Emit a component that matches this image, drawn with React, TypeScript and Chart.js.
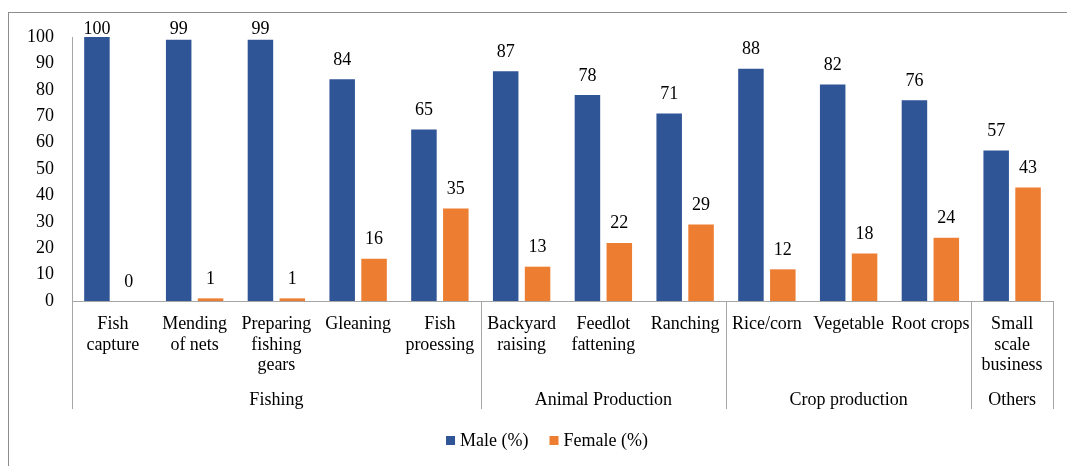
import { useEffect, useRef } from "react";
import { Chart, registerables } from "chart.js";

Chart.register(...registerables);

// Activity categories (multi-line tick labels) and their sector groups
const categories: string[][] = [
  ["Fish", "capture"],
  ["Mending", "of nets"],
  ["Preparing", "fishing", "gears"],
  ["Gleaning"],
  ["Fish", "proessing"],
  ["Backyard", "raising"],
  ["Feedlot", "fattening"],
  ["Ranching"],
  ["Rice/corn"],
  ["Vegetable"],
  ["Root crops"],
  ["Small", "scale", "business"],
];
const groupNames = ["Fishing", "Animal Production", "Crop production", "Others"];
const groupSizes = [5, 3, 3, 1];

// Participation shares by sex
const maleValues = [100, 99, 99, 84, 65, 87, 78, 71, 88, 82, 76, 57];
const femaleValues = [0, 1, 1, 16, 35, 13, 22, 29, 12, 18, 24, 43];

const yTicks = [0, 10, 20, 30, 40, 50, 60, 70, 80, 90, 100];

const FONT = '"Liberation Serif", "Times New Roman", serif';
const TEXT = "#000000";
const AXIS_GRAY = "#A6A6A6";
const MALE_COLOR = "#2F5597";
const FEMALE_COLOR = "#ED7D31";

const decorations = {
  id: "decorations",
  beforeDraw(chart: any) {
    const { ctx, width, height } = chart;
    ctx.save();
    ctx.fillStyle = "#ffffff";
    ctx.fillRect(0, 0, width, height);
    ctx.strokeStyle = "#8c8c8c";
    ctx.lineWidth = 1;
    ctx.strokeRect(8.5, 12.5, width + 20, height + 20);
    ctx.restore();
  },
  afterDraw(chart: any) {
    const { ctx, chartArea } = chart;
    const xs = chart.scales.x;
    ctx.save();

    // group boundaries below the axis
    const bounds = [0];
    let acc = 0;
    groupSizes.forEach((s) => {
      acc += s;
      bounds.push(acc);
    });
    ctx.strokeStyle = AXIS_GRAY;
    ctx.lineWidth = 1;
    bounds.forEach((b) => {
      const px = Math.round(xs.getPixelForValue(b - 0.5)) + 0.5;
      ctx.beginPath();
      ctx.moveTo(px, chartArea.bottom);
      ctx.lineTo(px, 409);
      ctx.stroke();
    });

    // group names
    ctx.fillStyle = TEXT;
    ctx.font = `18px ${FONT}`;
    ctx.textAlign = "center";
    ctx.textBaseline = "alphabetic";
    groupNames.forEach((g, i) => {
      const l = xs.getPixelForValue(bounds[i] - 0.5);
      const r = xs.getPixelForValue(bounds[i + 1] - 0.5);
      ctx.fillText(g, (l + r) / 2, 405);
    });

    // value labels above bars
    chart.data.datasets.forEach((ds: any, di: number) => {
      const meta = chart.getDatasetMeta(di);
      meta.data.forEach((bar: any, i: number) => {
        const y = Math.max(34, bar.y - 14.5);
        ctx.fillText(String(ds.data[i]), bar.x, y);
      });
    });

    // legend
    const box = 9;
    const gapText = 5;
    const gapItem = 21;
    ctx.textAlign = "left";
    ctx.textBaseline = "middle";
    const items = chart.data.datasets.map((ds: any) => ({
      label: ds.label as string,
      color: ds.backgroundColor as string,
      w: box + gapText + ctx.measureText(ds.label).width,
    }));
    const total =
      items.reduce((s: number, it: any) => s + it.w, 0) + gapItem * (items.length - 1);
    let lx = 547 - total / 2;
    const ly = 441;
    items.forEach((it: any) => {
      ctx.fillStyle = it.color;
      ctx.fillRect(lx, ly - 5, box, box);
      ctx.fillStyle = TEXT;
      ctx.fillText(it.label, lx + box + gapText, ly);
      lx += it.w + gapItem;
    });

    ctx.restore();
  },
};

export default function App() {
  const canvasRef = useRef<HTMLCanvasElement | null>(null);

  useEffect(() => {
    const canvas = canvasRef.current;
    if (!canvas) return;
    const chart = new Chart(canvas, {
      type: "bar",
      data: {
        labels: categories,
        datasets: [
          {
            label: "Male (%)",
            data: maleValues,
            backgroundColor: MALE_COLOR,
            categoryPercentage: 0.78,
            barPercentage: 0.8,
          },
          {
            label: "Female (%)",
            data: femaleValues,
            backgroundColor: FEMALE_COLOR,
            categoryPercentage: 0.78,
            barPercentage: 0.8,
          },
        ],
      },
      options: {
        responsive: false,
        animation: false,
        devicePixelRatio: 1,
        layout: { padding: { top: 37, right: 14, left: 0, bottom: 0 } },
        plugins: {
          legend: { display: false },
          tooltip: { enabled: false },
        },
        scales: {
          x: {
            grid: { display: false, drawTicks: false },
            border: { display: true, color: AXIS_GRAY, width: 1 },
            ticks: {
              autoSkip: false,
              maxRotation: 0,
              minRotation: 0,
              padding: 13,
              color: TEXT,
              font: { family: FONT, size: 18, lineHeight: 1.14 },
            },
            afterFit(scale: any) {
              scale.height = 165;
            },
          },
          y: {
            min: 0,
            max: 100,
            grid: { display: false, drawTicks: false },
            border: { display: true, color: AXIS_GRAY, width: 1 },
            ticks: {
              padding: 18,
              color: TEXT,
              font: { family: FONT, size: 18 },
            },
            afterBuildTicks(scale: any) {
              scale.ticks = yTicks.map((v) => ({ value: v }));
            },
            afterFit(scale: any) {
              scale.width = 72;
            },
          },
        },
      },
      plugins: [decorations],
    });
    return () => chart.destroy();
  }, []);

  return (
    <div style={{ position: "absolute", left: 0, top: 0, width: 1067, height: 466 }}>
      <canvas ref={canvasRef} width={1067} height={466} />
    </div>
  );
}
